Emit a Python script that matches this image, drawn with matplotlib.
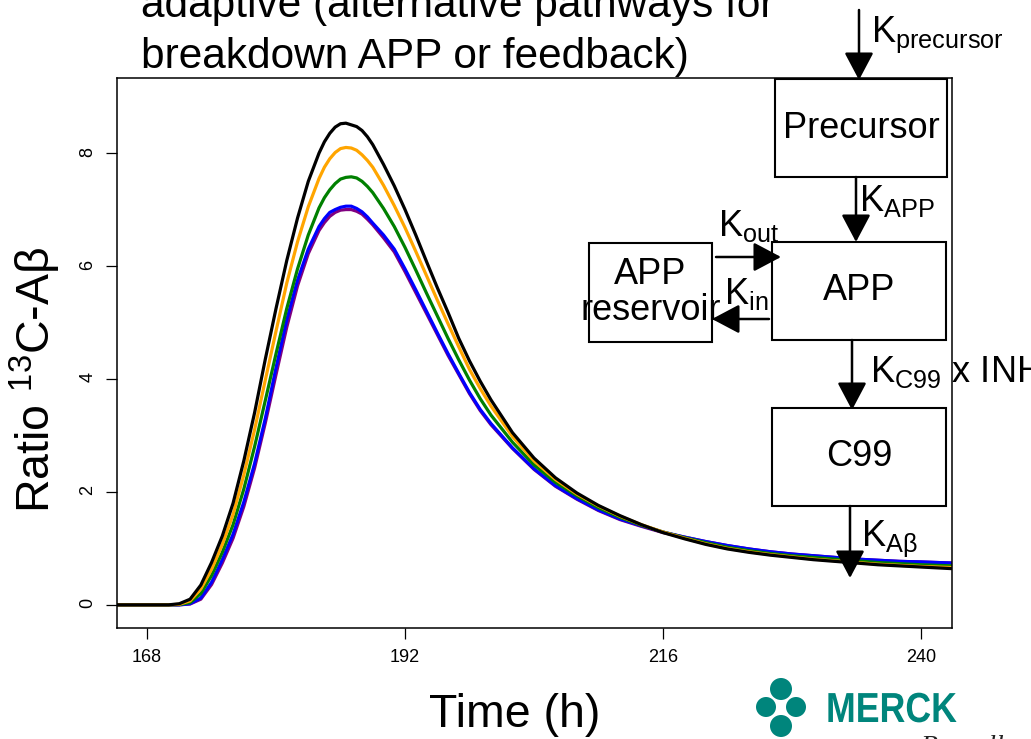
import matplotlib
matplotlib.use("Agg")
import matplotlib.pyplot as plt
from matplotlib.patches import Rectangle, Circle, PathPatch
from matplotlib.textpath import TextPath
from matplotlib.font_manager import FontProperties
from matplotlib.transforms import Affine2D

plt.rcParams["font.family"] = ["Liberation Sans", "DejaVu Sans"]
plt.rcParams["mathtext.fontset"] = "custom"
plt.rcParams["mathtext.rm"] = "Liberation Sans"
plt.rcParams["mathtext.it"] = "Liberation Sans:italic"
plt.rcParams["mathtext.bf"] = "Liberation Sans:bold"

W, H = 1031, 739

# simulated 13C-Abeta label ratio, one series per scenario
time_h = [165, 170, 171, 172, 173, 174, 175, 176, 177, 178, 179, 180,
          181, 182, 183, 184, 184.5, 185, 185.5, 186, 186.5, 187, 187.5,
          188, 188.5, 189, 190, 191, 192, 193, 194, 195, 196, 197, 198,
          199, 200, 202, 204, 206, 208, 210, 212, 214, 216, 218, 220,
          222, 224, 226, 228, 230, 232, 234, 236, 238, 240, 243]

ratio_black = [0, 0, 0.02, 0.10, 0.35, 0.75, 1.22, 1.80, 2.55, 3.40, 4.35, 5.25,
               6.10, 6.85, 7.50, 8.00, 8.20, 8.35, 8.46, 8.52, 8.53, 8.50, 8.47,
               8.40, 8.29, 8.15, 7.80, 7.42, 7.00, 6.55, 6.08, 5.62, 5.18, 4.72, 4.32,
               3.96, 3.63, 3.05, 2.60, 2.25, 1.98, 1.76, 1.58, 1.42, 1.28, 1.17, 1.07,
               0.99, 0.93, 0.88, 0.84, 0.80, 0.77, 0.74, 0.71, 0.69, 0.67, 0.64]

ratio_orange = [0, 0, 0.01, 0.07, 0.28, 0.63, 1.07, 1.60, 2.30, 3.10, 3.98, 4.85,
                5.70, 6.43, 7.05, 7.55, 7.75, 7.90, 8.01, 8.08, 8.10, 8.09, 8.05,
                7.97, 7.87, 7.75, 7.43, 7.07, 6.68, 6.26, 5.83, 5.40, 4.98, 4.57, 4.17,
                3.83, 3.52, 2.98, 2.55, 2.22, 1.96, 1.75, 1.57, 1.42, 1.29, 1.18, 1.08,
                1.00, 0.94, 0.89, 0.85, 0.81, 0.78, 0.75, 0.72, 0.70, 0.68, 0.66]

ratio_green = [0, 0, 0.005, 0.04, 0.20, 0.52, 0.93, 1.42, 2.05, 2.80, 3.62, 4.45,
               5.25, 5.95, 6.55, 7.03, 7.21, 7.35, 7.46, 7.54, 7.57, 7.58, 7.56,
               7.50, 7.41, 7.30, 7.02, 6.70, 6.33, 5.93, 5.52, 5.12, 4.72, 4.34, 3.98,
               3.65, 3.36, 2.88, 2.48, 2.17, 1.93, 1.72, 1.55, 1.41, 1.29, 1.19, 1.10,
               1.02, 0.96, 0.91, 0.87, 0.84, 0.81, 0.78, 0.75, 0.73, 0.71, 0.69]

ratio_blue = [0, 0, 0, 0.02, 0.12, 0.40, 0.80, 1.25, 1.82, 2.50, 3.30, 4.20,
              5.05, 5.75, 6.30, 6.70, 6.84, 6.95, 7.00, 7.04, 7.06, 7.06, 7.02,
              6.96, 6.87, 6.76, 6.55, 6.30, 5.95, 5.58, 5.20, 4.82, 4.45, 4.10, 3.76,
              3.46, 3.21, 2.78, 2.41, 2.11, 1.88, 1.68, 1.52, 1.40, 1.29, 1.20, 1.12,
              1.05, 0.99, 0.94, 0.90, 0.87, 0.84, 0.81, 0.79, 0.77, 0.76, 0.74]

ratio_purple = [0, 0, 0, 0.015, 0.10, 0.36, 0.74, 1.18, 1.74, 2.42, 3.22, 4.08,
                4.92, 5.65, 6.22, 6.63, 6.77, 6.88, 6.95, 6.99, 7.00, 7.00, 6.97,
                6.92, 6.83, 6.73, 6.50, 6.25, 5.90, 5.53, 5.16, 4.79, 4.42, 4.08, 3.74,
                3.44, 3.19, 2.77, 2.40, 2.10, 1.87, 1.67, 1.51, 1.39, 1.28, 1.20, 1.12,
                1.05, 0.99, 0.94, 0.90, 0.87, 0.84, 0.81, 0.79, 0.77, 0.76, 0.74]

hour_ticks = [168, 192, 216, 240]
ratio_ticks = [0, 2, 4, 6, 8]

fig = plt.figure(figsize=(W / 100, H / 100), dpi=100)
ax = fig.add_axes([117 / W, 1 - 628 / H, (952 - 117) / W, (628 - 78) / H])

series = [
    (ratio_purple, "#800080"),
    (ratio_blue, "#0000FF"),
    (ratio_green, "#008000"),
    (ratio_orange, "#FFA500"),
    (ratio_black, "black"),
]
for vals, color in series:
    ax.plot(time_h, vals, color=color, lw=2.3, solid_joinstyle="round")

ax.set_xlim(165.2, 242.9)
ax.set_ylim(-0.41, 9.33)
ax.set_xticks(hour_ticks)
ax.set_yticks(ratio_ticks)
ax.tick_params(direction="out", length=8, width=0.9, labelsize=13, pad=7)
ax.tick_params(axis="y", labelrotation=90)
for sp in ax.spines.values():
    sp.set_linewidth(1.1)

# overlay in pixel units for the heading, axis titles and compartment diagram
ov = fig.add_axes([0, 0, 1, 1], zorder=5)
ov.set_xlim(0, W)
ov.set_ylim(H, 0)
ov.axis("off")

ov.text(141, 17, "adaptive (alternative pathways for", fontsize=30.5, va="baseline")
ov.text(141, 68, "breakdown APP or feedback)", fontsize=30.5, va="baseline")

ov.text(515, 727, "Time (h)", fontsize=33.5, ha="center", va="baseline")
ov.text(50, 380, "Ratio $^{\\mathrm{13}}$C-A\u03b2", fontsize=33.5, rotation=90,
        rotation_mode="anchor", ha="center", va="baseline")

boxes = [
    ((775, 79), 172, 98, "Precursor"),
    ((772, 242), 174, 98, "APP"),
    ((589, 243), 123, 99, "APP\nreservoir"),
    ((772, 408), 174, 98, "C99"),
]
for (x0, y0), bw, bh, label in boxes:
    ov.add_patch(Rectangle((x0, y0), bw, bh, fill=False, ec="black", lw=1.5))
    ov.text(x0 + bw / 2, y0 + bh / 2, label, fontsize=26, ha="center",
            va="center", linespacing=1.05)


def arrow(x0, y0, x1, y1):
    ov.annotate("", xy=(x1, y1), xytext=(x0, y0),
                arrowprops=dict(arrowstyle="-|>,head_length=0.85,head_width=0.45",
                                mutation_scale=20, lw=1.8, color="black",
                                shrinkA=0, shrinkB=0))


arrow(859, 10, 859, 80)
arrow(856, 177, 856, 242)
arrow(716, 257, 781, 257)
arrow(769, 319, 712, 319)
arrow(852, 340, 852, 410)
arrow(850, 506, 850, 578)

ov.text(871, 42, "K$_{\\mathrm{precursor}}$", fontsize=26, va="baseline")
ov.text(859, 211, "K$_{\\mathrm{APP}}$", fontsize=26, va="baseline")
ov.text(718, 236, "K$_{\\mathrm{out}}$", fontsize=26, va="baseline")
ov.text(724, 304, "K$_{\\mathrm{in}}$", fontsize=26, va="baseline")
ov.text(870, 382, "K$_{\\mathrm{C99}}$ x INH", fontsize=26, va="baseline")
ov.text(861, 546, "K$_{\\mathrm{A\u03b2}}$", fontsize=26, va="baseline")

# company mark in the lower right corner
teal = "#00857C"
for cx, cy, r in [(781, 689, 11), (781, 726, 11), (766, 707, 10), (796, 707, 10)]:
    ov.add_patch(Circle((cx, cy), r, color=teal, lw=0))
word = TextPath((0, 0), "MERCK", size=42,
                prop=FontProperties(family="Liberation Sans", weight="bold"))
word = word.transformed(Affine2D().scale(0.85, -1).translate(826, 722))
ov.add_patch(PathPatch(word, fc=teal, lw=0))
ov.text(921, 754, "Be well", fontsize=20, style="italic", family="Liberation Serif",
        color="#222222", va="baseline")

fig.savefig("out.png", dpi=100)
